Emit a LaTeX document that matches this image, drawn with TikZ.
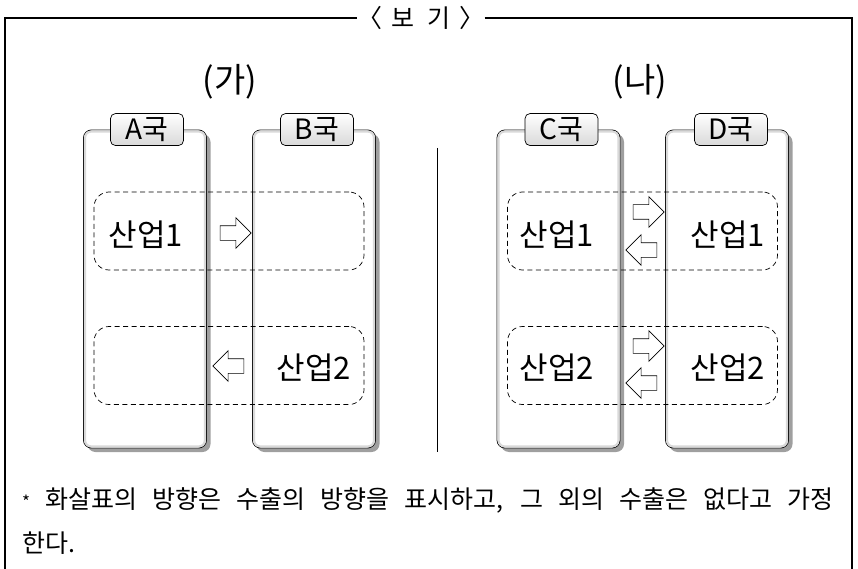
\documentclass[tikz,border=0pt]{standalone}
\usepackage{fontspec}
\setmainfont{Noto Sans CJK KR}
\usetikzlibrary{shapes.arrows,shadows,positioning}

\tikzset{
  country/.style={draw,line width=0.9pt,rounded corners=8pt,fill=white,
    drop shadow={shadow xshift=4pt,shadow yshift=-4pt,fill=gray!75,opacity=1},
    minimum width=123pt,minimum height=318pt,inner sep=0pt},
  bevel/.style={draw=gray!30,line width=2.2pt,rounded corners=6pt},
  tab/.style={draw,line width=0.7pt,rounded corners=5pt,top color=white,bottom color=gray!30,
    minimum width=73pt,minimum height=32pt,inner sep=0pt,font=\fontsize{28}{30}\selectfont},
  industry/.style={draw,line width=0.7pt,dash pattern=on 5pt off 3.5pt,rounded corners=15pt,
    minimum width=270pt,minimum height=78pt,inner sep=0pt},
  sector/.style={font=\fontsize{31}{33}\selectfont,inner sep=0pt},
  trade/.style={single arrow,draw,fill=white,line width=0.6pt,minimum height=31pt,
    inner xsep=0pt,inner ysep=7pt,single arrow head extend=8pt},
  panel/.style={font=\fontsize{34}{36}\selectfont,inner sep=0pt}
}

\begin{document}
\begin{tikzpicture}[x=1pt,y=-1pt]

\useasboundingbox (0,0) rectangle (858,569);

% frame
\node[font=\fontsize{25}{27}\selectfont,inner sep=0pt] (title) at (421,18) {〈\hspace{9pt}보\hspace{13pt}기\hspace{9pt}〉};
\draw[line width=1.1pt] (5,569) -- (5,18) -- (title.west);
\draw[line width=1.1pt] (title.east) -- (852,18) -- (852,569);

% (가)
\node[panel] (ga) at (230,82) {(가)};
\node[country] (A) at (145,289) {};
\node[country] (B) at (314,289) {};
\draw[bevel] ([shift={(2,2)}]A.north west) rectangle ([shift={(-2,-2)}]A.south east);
\draw[bevel] ([shift={(2,2)}]B.north west) rectangle ([shift={(-2,-2)}]B.south east);
\node[tab,xshift=2pt] (tA) at (A.north) {A국};
\node[tab,xshift=3pt] (tB) at (B.north) {B국};

\node[industry] (ga1) at (229,231) {};
\node[industry] (ga2) at (229,365.5) {};
\node[sector] (A1) at (146,235) {산업1};
\node[sector] (B2) at (314,368) {산업2};
\node[trade] (ga1x) at (232,233) {};
\node[trade,shape border rotate=180] (ga2x) at (232,366) {};

% divider
\draw[line width=0.9pt] (437,148) -- (437,452);

% (나)
\node[panel] (na) at (640,82) {(나)};
\node[country] (C) at (558.5,289) {};
\node[country] (D) at (727,289) {};
\draw[bevel] ([shift={(2,2)}]C.north west) rectangle ([shift={(-2,-2)}]C.south east);
\draw[bevel] ([shift={(2,2)}]D.north west) rectangle ([shift={(-2,-2)}]D.south east);
\node[tab,xshift=3pt] (tC) at (C.north) {C국};
\node[tab,xshift=4pt] (tD) at (D.north) {D국};

\node[industry] (na1) at (642.5,231) {};
\node[industry] (na2) at (642.5,365.5) {};
\node[sector] (C1) at (557,235) {산업1};
\node[sector] (D1) at (728,235) {산업1};
\node[sector] (C2) at (557,368) {산업2};
\node[sector] (D2) at (728,368) {산업2};
\node[trade] (na1x) at (645,212) {};
\node[trade,shape border rotate=180] (na1y) at (645,250) {};
\node[trade] (na2x) at (645,346) {};
\node[trade,shape border rotate=180] (na2y) at (645,383) {};

% note
\node[anchor=west,inner sep=0pt,font=\fontsize{25}{27}\selectfont] (note1) at (22,500)
  {\makebox[811pt][s]{{\fontsize{17}{17}\selectfont *} 화살표의 방향은 수출의 방향을 표시하고, 그 외의 수출은 없다고 가정}};
\node[anchor=west,inner sep=0pt,font=\fontsize{25}{27}\selectfont] (note2) at (22,543) {한다.};

\end{tikzpicture}
\end{document}
